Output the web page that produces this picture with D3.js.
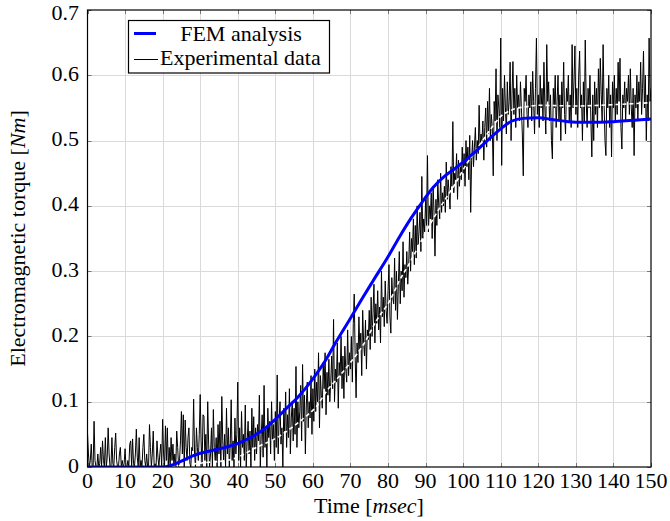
<!DOCTYPE html>
<html>
<head>
<meta charset="utf-8">
<script src="https://cdn.jsdelivr.net/npm/d3@7"></script>
<style>
  html, body { margin: 0; padding: 0; background: #fff; }
  svg { display: block; }
</style>
</head>
<body>
<svg id="chart" width="670" height="521"></svg>
<script>
// ---- data ----------------------------------------------------------------
const xTicks = [0, 10, 20, 30, 40, 50, 60, 70, 80, 90, 100, 110, 120, 130, 140, 150];
const yTicks = [0, 0.1, 0.2, 0.3, 0.4, 0.5, 0.6, 0.7];
const yTickLabels = ["0", "0.1", "0.2", "0.3", "0.4", "0.5", "0.6", "0.7"];

// FEM simulation (time in ms, torque in Nm)
const femTime = [0, 5, 10, 15, 20, 22, 25, 28, 30, 33, 36, 40, 43, 46, 50, 53, 56, 60, 63, 66, 70,
  73, 76, 80, 83, 86, 89, 92, 95, 98, 101, 104, 107, 110, 113, 116, 120, 124, 128, 132, 136, 140, 145, 150];
const femTorque = [0, 0, 0, 0, 0, 0.002, 0.009, 0.017, 0.021, 0.025, 0.029, 0.036, 0.044, 0.054, 0.073,
  0.09, 0.107, 0.135, 0.16, 0.19, 0.228, 0.257, 0.285, 0.322, 0.352, 0.38, 0.405, 0.428, 0.445, 0.458,
  0.472, 0.487, 0.503, 0.518, 0.53, 0.534, 0.535, 0.532, 0.529, 0.528, 0.528, 0.529, 0.531, 0.533];

// smoothed measurement (white dashed trace)
const trendTime = [0, 20, 25, 30, 38, 45, 51, 55, 58, 61, 63.5, 66, 70, 73.5, 77, 80.5, 83, 86, 89, 92,
  95, 98, 101, 104, 107, 110, 113, 117, 120, 130, 140, 150];
const trendTorque = [0, 0, 0.002, 0.006, 0.011, 0.03, 0.047, 0.063, 0.077, 0.093, 0.115, 0.132, 0.16,
  0.188, 0.225, 0.255, 0.285, 0.315, 0.348, 0.38, 0.408, 0.435, 0.465, 0.49, 0.515, 0.537, 0.547, 0.552,
  0.554, 0.553, 0.555, 0.558];

// measured torque, sampled every 0.25 ms from 0 to 150 ms
const sampleStep = 0.25;
const measuredTorque = [
  0.052,0.02,0,0.01,0.035,0,0,0.07,0.01,0,0,0.02,0,0.005,0.03,0,0.04,0.01,0,0.045,
  0,0.015,0.06,0.02,0,0,0.045,0.005,0,0.03,0.052,0.01,0,0,0.02,0.03,0,0.01,0,0.005,
  0.028,0,0,0.01,0,0.035,0.04,0,0.043,0.005,0,0.02,0.058,0.015,0,0.045,0,0.01,0,0.03,
  0.05,0.01,0,0.02,0,0,0.065,0.03,0,0.02,0.055,0,0.005,0,0.04,0.015,0,0.02,0.035,0,
  0.073,0.02,0,0.063,0.01,0.06,0,0.03,0,0.045,0.01,0.035,0,0.02,0,0.055,0.03,0,0.01,0.04,
  0.085,0.02,0.08,0,0.072,0.03,0.01,0.045,0.06,0.005,0,0.03,0.025,0.104,0.02,0,0.06,0.03,0.01,0.05,
  0.111,0.04,0,0.08,0.078,0.01,0.05,0,0.1,0.035,0,0.02,0.06,0,0.088,0.03,0.01,0.045,0,0.065,
  0.02,0.07,0,0.108,0.04,0.01,0.05,0,0.09,0.02,0.06,0,0.035,0.103,0.01,0.04,0,0.075,0.02,0.05,
  0.13,0.01,0.06,0,0.085,0.03,0.05,0.01,0.095,0,0.04,0.07,0.02,0.055,0,0.09,0.03,0.077,0.01,0.06,
  0.02,0.065,0.04,0.11,0,0.05,0.08,0.015,0.125,0.03,0.06,0,0.09,0.045,0.07,0.02,0.1,0.04,0.065,0.01,
  0.085,0.03,0.141,0.02,0.07,0.1,0.035,0.06,0,0.09,0.055,0.115,0.03,0.08,0.045,0.12,0.02,0.075,0.1,0.04,
  0.09,0.05,0.154,0.03,0.1,0.06,0.085,0.125,0.04,0.157,0.07,0.11,0.02,0.095,0.13,0.06,0.1,0.075,0.14,0.05,
  0.12,0.07,0.15,0.085,0.13,0.1,0.175,0.06,0.14,0.11,0.09,0.16,0.12,0.175,0.08,0.145,0.11,0.165,0.1,0.13,
  0.17,0.12,0.226,0.1,0.15,0.13,0.19,0.09,0.16,0.14,0.2,0.12,0.17,0.105,0.185,0.15,0.13,0.21,0.14,0.175,
  0.15,0.2,0.13,0.22,0.265,0.17,0.106,0.19,0.16,0.23,0.18,0.205,0.14,0.24,0.19,0.17,0.225,0.15,0.21,0.195,
  0.24,0.18,0.26,0.2,0.235,0.28,0.19,0.25,0.22,0.27,0.21,0.245,0.19,0.3,0.23,0.26,0.215,0.285,0.24,0.22,
  0.27,0.31,0.23,0.205,0.29,0.26,0.25,0.32,0.24,0.3,0.226,0.28,0.33,0.25,0.3,0.27,0.345,0.26,0.31,0.29,
  0.33,0.28,0.31,0.36,0.3,0.35,0.33,0.38,0.31,0.37,0.32,0.4,0.34,0.36,0.39,0.33,0.445,0.35,0.38,0.36,
  0.41,0.37,0.477,0.36,0.4,0.38,0.42,0.35,0.43,0.39,0.323,0.41,0.37,0.44,0.4,0.38,0.45,0.39,0.42,0.4,
  0.43,0.39,0.467,0.41,0.44,0.42,0.395,0.46,0.43,0.529,0.42,0.45,0.44,0.48,0.41,0.47,0.43,0.46,0.44,0.49,
  0.45,0.48,0.43,0.5,0.46,0.49,0.44,0.508,0.39,0.47,0.5,0.46,0.49,0.52,0.47,0.5,0.48,0.554,0.49,0.51,
  0.5,0.53,0.47,0.52,0.55,0.49,0.56,0.51,0.58,0.5,0.54,0.52,0.446,0.56,0.53,0.61,0.5,0.57,0.55,0.52,
  0.657,0.462,0.58,0.53,0.6,0.55,0.51,0.59,0.54,0.56,0.62,0.5,0.57,0.621,0.54,0.58,0.52,0.6,0.55,0.57,
  0.53,0.59,0.55,0.51,0.446,0.58,0.56,0.6,0.54,0.52,0.57,0.55,0.59,0.53,0.606,0.56,0.51,0.58,0.657,0.54,
  0.57,0.52,0.6,0.55,0.58,0.53,0.62,0.55,0.51,0.647,0.56,0.59,0.53,0.57,0.5,0.472,0.58,0.55,0.6,0.52,
  0.56,0.6,0.53,0.57,0.5,0.59,0.55,0.62,0.54,0.51,0.58,0.56,0.6,0.53,0.57,0.52,0.647,0.55,0.59,0.645,
  0.54,0.58,0.52,0.6,0.637,0.55,0.57,0.5,0.59,0.53,0.654,0.56,0.52,0.58,0.55,0.6,0.53,0.475,0.57,0.5,
  0.59,0.54,0.58,0.52,0.61,0.55,0.626,0.57,0.53,0.647,0.56,0.5,0.477,0.58,0.55,0.6,0.52,0.57,0.475,0.59,
  0.55,0.6,0.53,0.58,0.54,0.62,0.56,0.626,0.52,0.487,0.57,0.55,0.59,0.53,0.58,0.56,0.6,0.54,0.61,0.55,
  0.52,0.58,0.477,0.57,0.55,0.6,0.53,0.59,0.56,0.62,0.54,0.58,0.637,0.55,0.6,0.5,0.57,0.53,0.657,0.56,
  0.58
];

const legendLabels = ["FEM analysis", "Experimental data"];

// ---- font selection: first installed Times-like face ------------------------
function fontInstalled(name) {
  const ctx = document.createElement("canvas").getContext("2d");
  const probe = "abcdefghijklmnopqrstuvwxyzWMQ0123456789";
  return ["monospace", "sans-serif"].every(base => {
    ctx.font = `40px ${base}`;
    const w0 = ctx.measureText(probe).width;
    ctx.font = `40px "${name}", ${base}`;
    return ctx.measureText(probe).width !== w0;
  });
}
const serifCandidates = ["Liberation Serif", "Times New Roman", "Tinos", "Nimbus Roman",
  "TeX Gyre Termes", "FreeSerif", "DejaVu Serif", "Noto Serif"];
const serifFace = serifCandidates.find(fontInstalled);
const fontStack = serifFace ? `"${serifFace}", serif` : `"Liberation Sans", Arial, sans-serif`;
const fontSize = serifFace ? 22 : 19;

// ---- layout ---------------------------------------------------------------
const svg = d3.select("#chart").attr("font-family", fontStack);
const plot = { left: 87.5, right: 651, top: 10, bottom: 467 };
const x = d3.scaleLinear().domain([0, 150]).range([plot.left, plot.right]);
const y = d3.scaleLinear().domain([0, 0.7]).range([plot.bottom, plot.top]);

svg.append("defs").append("clipPath").attr("id", "plotClip")
  .append("rect")
  .attr("x", plot.left).attr("y", plot.top)
  .attr("width", plot.right - plot.left).attr("height", plot.bottom - plot.top);

// grid
const grid = svg.append("g").attr("stroke", "#dadada").attr("stroke-width", 1);
grid.selectAll("line.vx").data(xTicks.slice(1, -1)).join("line")
  .attr("x1", d => Math.round(x(d)) + 0.5).attr("x2", d => Math.round(x(d)) + 0.5)
  .attr("y1", plot.top).attr("y2", plot.bottom);
grid.selectAll("line.hy").data(yTicks.slice(1, -1)).join("line")
  .attr("y1", d => Math.round(y(d)) + 0.5).attr("y2", d => Math.round(y(d)) + 0.5)
  .attr("x1", plot.left).attr("x2", plot.right);

// inward tick marks on all four sides
const tk = svg.append("g").attr("stroke", "#777").attr("stroke-width", 1);
xTicks.forEach(d => {
  const px = Math.round(x(d)) + 0.5;
  tk.append("line").attr("x1", px).attr("x2", px).attr("y1", plot.bottom).attr("y2", plot.bottom - 4);
  tk.append("line").attr("x1", px).attr("x2", px).attr("y1", plot.top).attr("y2", plot.top + 4);
});
yTicks.forEach(d => {
  const py = Math.round(y(d)) + 0.5;
  tk.append("line").attr("y1", py).attr("y2", py).attr("x1", plot.left).attr("x2", plot.left + 4);
  tk.append("line").attr("y1", py).attr("y2", py).attr("x1", plot.right).attr("x2", plot.right - 4);
});

// series
const data = svg.append("g").attr("clip-path", "url(#plotClip)");

const measured = measuredTorque.map((v, i) => [i * sampleStep, v]);
data.append("path")
  .datum(measured)
  .attr("fill", "none").attr("stroke", "#000").attr("stroke-width", 1)
  .attr("stroke-linejoin", "miter")
  .attr("d", d3.line().x(d => x(d[0])).y(d => y(d[1])));

const trend = trendTime.map((t, i) => [t, trendTorque[i]]);
data.append("path")
  .datum(trend)
  .attr("fill", "none").attr("stroke", "#fff").attr("stroke-width", 1.6)
  .attr("stroke-dasharray", "4,3")
  .attr("d", d3.line().curve(d3.curveMonotoneX).x(d => x(d[0])).y(d => y(d[1])));

const fem = femTime.map((t, i) => [t, femTorque[i]]);
data.append("path")
  .datum(fem)
  .attr("fill", "none").attr("stroke", "#0000ff").attr("stroke-width", 3)
  .attr("d", d3.line().curve(d3.curveMonotoneX).x(d => x(d[0])).y(d => y(d[1])));

// frame
svg.append("rect")
  .attr("x", plot.left).attr("y", plot.top)
  .attr("width", plot.right - plot.left).attr("height", plot.bottom - plot.top)
  .attr("fill", "none").attr("stroke", "#000").attr("stroke-width", 1.2);

// tick labels
svg.append("g").selectAll("text").data(xTicks).join("text")
  .attr("x", d => x(d)).attr("y", 488)
  .attr("text-anchor", "middle").attr("font-size", fontSize)
  .text(d => d);
svg.append("g").selectAll("text").data(yTicks).join("text")
  .attr("x", 79).attr("y", d => Math.max(y(d) + 5.5, 20))
  .attr("text-anchor", "end").attr("font-size", fontSize)
  .text((d, i) => yTickLabels[i]);

// axis titles
const xt = svg.append("text").attr("x", 369).attr("y", 513)
  .attr("text-anchor", "middle").attr("font-size", fontSize);
xt.append("tspan").text("Time [");
xt.append("tspan").attr("font-style", "italic").text("msec");
xt.append("tspan").text("]");

const yt = svg.append("text")
  .attr("transform", `translate(25, ${y(0.35)}) rotate(-90)`)
  .attr("text-anchor", "middle").attr("font-size", fontSize);
yt.append("tspan").text("Electromagnetic torque [");
yt.append("tspan").attr("font-style", "italic").text("Nm");
yt.append("tspan").text("]");

// legend
const lg = svg.append("g");
lg.append("rect")
  .attr("x", 128.5).attr("y", 20.5).attr("width", 201).attr("height", 52.5)
  .attr("fill", "#fff").attr("stroke", "#000").attr("stroke-width", 1.2);
lg.append("line").attr("x1", 134).attr("x2", 156).attr("y1", 33.5).attr("y2", 33.5)
  .attr("stroke", "#0000ff").attr("stroke-width", 3);
lg.append("line").attr("x1", 134).attr("x2", 158).attr("y1", 59.5).attr("y2", 59.5)
  .attr("stroke", "#000").attr("stroke-width", 1);
lg.append("text").attr("x", 241).attr("y", 41).attr("text-anchor", "middle")
  .attr("font-size", fontSize).text(legendLabels[0]);
lg.append("text").attr("x", 160).attr("y", 65)
  .attr("font-size", fontSize).text(legendLabels[1]);
</script>
</body>
</html>
